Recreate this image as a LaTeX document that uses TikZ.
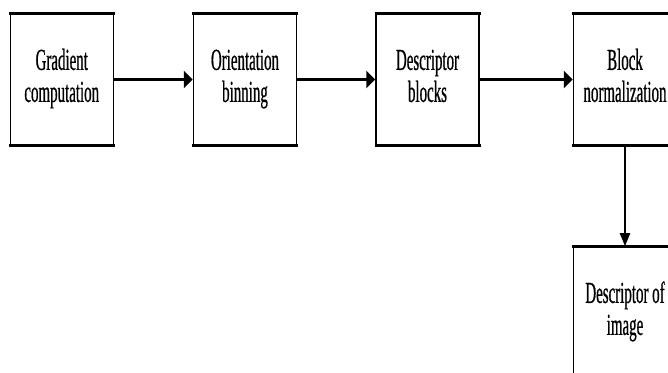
\documentclass[tikz,border=0pt]{standalone}
\usepackage{fontspec}
\setmainfont{Liberation Serif}
\newfontfamily\boxfont[FakeStretch=0.49,FakeBold=0.6]{Liberation Serif}
\usetikzlibrary{arrows.meta}
\newcommand\boxtxt[1]{\raisebox{-6pt}{\begin{tabular}{@{}c@{}}#1\end{tabular}}}
\begin{document}
\begin{tikzpicture}[x=1pt,y=1pt,
  blk/.style={draw=black, line width=1.5pt, minimum width=103pt, minimum height=131pt,
    inner sep=0pt, font=\boxfont\fontsize{30.5}{32}\selectfont},
  hedge/.style={line width=3pt},
  harr/.style={line width=3pt, -{Triangle[length=9pt,width=17pt]}},
  varr/.style={line width=2pt, -{Triangle[length=13pt,width=10pt]}},
]
\useasboundingbox (0,0) rectangle (668,372);
\node[blk] (g) at (61.75,292.5) {\boxtxt{Gradient\\computation}};
\node[blk] (o) at (245,292.5) {\boxtxt{Orientation\\binning}};
\node[blk] (d) at (427.5,292.5) {\boxtxt{Descriptor\\blocks}};
\node[blk] (b) at (625,292.5) {\boxtxt{Block\\normalization}};
\node[blk] (i) at (625,59.5) {\boxtxt{Descriptor of\\image}};
\foreach \n in {g,o,d,b,i}{
  \draw[hedge] ([xshift=-0.75pt]\n.north west) -- ([xshift=0.75pt]\n.north east);
  \draw[hedge] ([xshift=-0.75pt]\n.south west) -- ([xshift=0.75pt]\n.south east);
}
\draw[harr] (g.east) -- (o.west);
\draw[harr] (o.east) -- (d.west);
\draw[harr] (d.east) -- (b.west);
\draw[varr] (b.south) -- (i.north);
\end{tikzpicture}
\end{document}
